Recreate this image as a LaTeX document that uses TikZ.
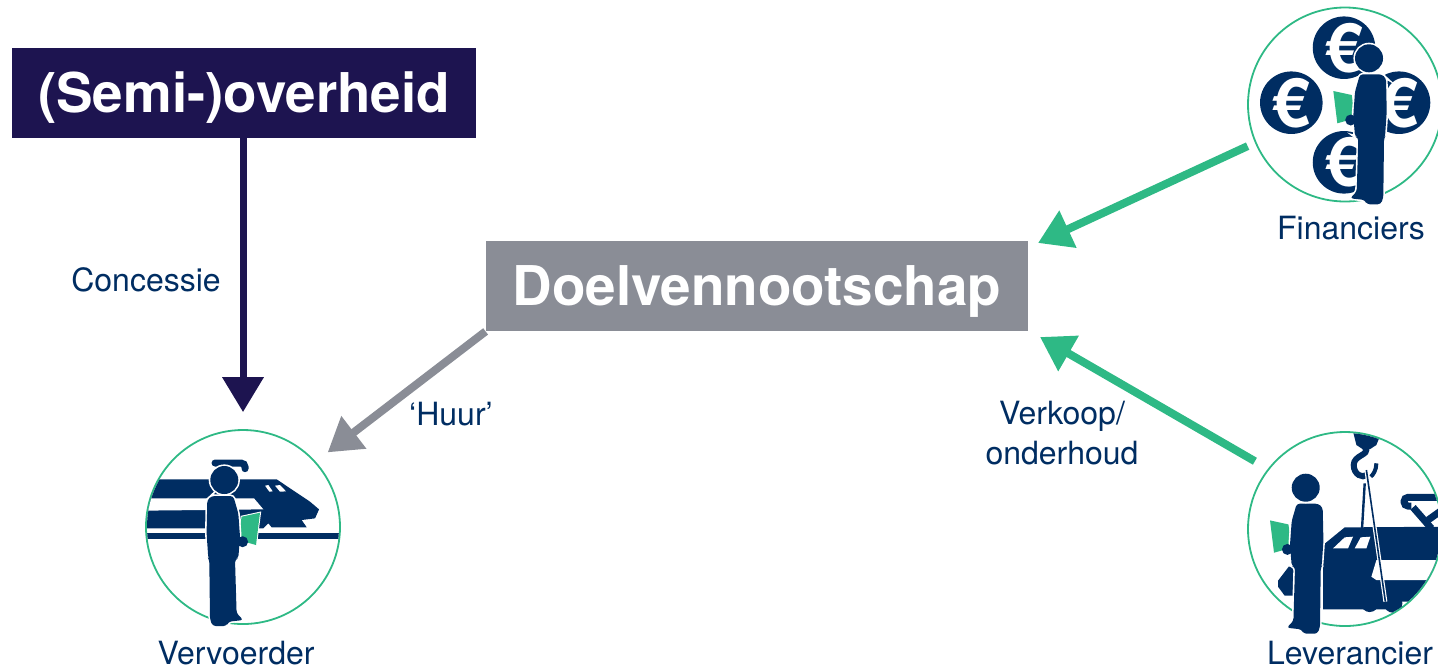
\documentclass[tikz,border=0pt]{standalone}
\usepackage{fontspec}
\setmainfont{TeX Gyre Heros}
\usetikzlibrary{positioning}
\usetikzlibrary{arrows.meta}

\definecolor{navybox}{RGB}{29,20,80}
\definecolor{navyicon}{RGB}{0,45,98}
\definecolor{greybox}{RGB}{138,141,150}
\definecolor{greenline}{RGB}{46,185,133}

\begin{document}
\begin{tikzpicture}[
x=0.5pt, y=-0.5pt,
titlenode/.style={rectangle, text=white, font=\fontsize{27.4}{27.4}\selectfont\bfseries, minimum height=45pt, text height=22pt, text depth=3pt},
labelnode/.style={text=navyicon, font=\fontsize{16}{20}\selectfont, align=center, inner sep=0pt},
circlenode/.style={circle, draw=greenline, line width=0.9pt, minimum size=97pt, inner sep=0pt},
coinnode/.style={circle, fill=navyicon, minimum size=30.5pt, inner sep=0pt, text=white, font=\fontsize{34}{34}\selectfont\bfseries},
halo/.style={fill=navyicon, preaction={draw=white, line width=1.6pt}},
navyarrow/.style={-{Triangle[length=17.5pt,width=20pt]}, line width=3.5pt, draw=navybox},
greyarrow/.style={-{Triangle[length=16.5pt,width=19.5pt]}, line width=4pt, draw=greybox},
greenarrow/.style={-{Triangle[length=16.5pt,width=19.5pt]}, line width=4pt, draw=greenline},
person/.pic={
  \fill[greenline, preaction={draw=white, line width=1pt}] (17.3,36.7) -- (35.7,32.7) -- (31.7,65) -- (14,60) -- cycle;
  \path[halo, rounded corners=1.5pt] (-12.7,16) -- (9,16) -- (14,33.3) -- (15.7,56.7) -- (14,78.3) -- (10.7,79.3) -- (12.3,133.3) -- (19,140) -- (4,141.7) -- (2.3,146) -- (-11.7,146) -- (-14.3,139.3) -- (-15,80) -- (-16,78.3) -- (-17.7,53.3) -- (-17,20) -- cycle;
  \fill[navyicon] (18.3,61.7) circle (5.5);
  \path[halo] (0,0) circle (14);
},
]
\useasboundingbox (0,0) rectangle (1438,670);

%Nodes
\node[titlenode, fill=navybox, minimum width=232pt] (overheid) at (244,93) {(Semi-)overheid};
\node[titlenode, fill=greybox, minimum width=271pt] (doel) at (757,286) {Doelvennootschap};
\node[circlenode] (vervoerder) at (243,527) {};
\node[circlenode] (financiers) at (1345,104.5) {};
\node[circlenode] (leverancier) at (1345,529) {};
\node[labelnode] (vervoerdertext) [below=8pt of vervoerder, xshift=-3.5pt] {Vervoerder};
\node[labelnode] (financierstext) [below=6.5pt of financiers, xshift=3pt] {Financiers};
\node[labelnode] (leveranciertext) [below=7pt of leverancier, xshift=2.5pt] {Leverancier};
\node[labelnode] (concessie) at (146,280) {Concessie};
\node[labelnode] (huur) at (451,414) {‘Huur’};
\node[labelnode] (verkoop) at (1062,433) {Verkoop/\\onderhoud};
\coordinate (fintip) at (1038,243);
\coordinate (levtip) at (1040,337);

%Train
\begin{scope}
\clip (243,527) circle (96);
\begin{scope}[shift={(130,420)}, x=0.1667pt, y=-0.1667pt]
\fill[navyicon] (30,178) -- (440,178) -- (540,245) -- (567,268) -- (555,295) -- (515,300) -- (530,322) -- (425,322) -- (415,310) -- (400,325) -- (30,325) -- cycle;
\fill[white] (30,235) -- (372,235) -- (400,268) -- (30,272) -- cycle;
\fill[navyicon] (30,338) rectangle (640,358);
\fill[white] (405,197) -- (415,195) -- (428,214) -- (418,215) -- cycle;
\fill[white] (435,197) -- (450,195) -- (468,214) -- (450,215) -- cycle;
\draw[navyicon, line width=3.5pt, line cap=round, rounded corners=2pt] (255,129) -- (345,129) -- (345,146);
\end{scope}
\end{scope}
\pic at (224.3,480) {person};

%Coins
\node[coinnode] (coinup) at (1344,47.7) {€};
\node[coinnode] (coinleft) at (1291.3,102.7) {€};
\node[coinnode] (coinright) at (1399,102.7) {€};
\node[coinnode] (coindown) at (1344,162.3) {€};
\pic[xscale=-1] at (1369,58.3) {person};

%Crane and train
\begin{scope}
\clip (1345,529) circle (96);
\begin{scope}[shift={(1238,420)}, x=0.1667pt, y=-0.1667pt]
\fill[navyicon] (345,35) -- (425,50) -- (415,75) -- (395,88) -- (375,88) -- (355,75) -- cycle;
\draw[navyicon, line width=3pt] (382,85) .. controls (395,105) and (347,105) .. (347,135) .. controls (347,165) and (375,175) .. (385,165);
\draw[navyicon, line width=2pt] (415,130) .. controls (415,150) and (405,165) .. (398,170);
\draw[navyicon, line width=1.2pt] (380,190) -- (372,325);
\fill[navyicon] (120,482) -- (152,440) -- (170,440) -- (170,527) -- (140,527) -- (120,500) -- cycle;
\fill[navyicon] (255,375) -- (320,322) -- (640,320) -- (640,545) -- (490,545) -- (490,568) -- (255,568) -- cycle;
\fill[white] (415,420) -- (640,420) -- (640,480) -- (415,480) -- (400,470) -- cycle;
\fill[navyicon] (395,550) circle (26);
\fill[navyicon] (465,550) circle (28);
\fill[white] (285,385) -- (320,352) -- (345,350) -- (330,385) -- cycle;
\fill[white] (350,385) -- (368,352) -- (397,350) -- (385,385) -- cycle;
\draw[white, line width=2pt] (385,150) -- (442,545);
\draw[navyicon, line width=0.8pt] (385,150) -- (442,545);
\draw[navyicon, line width=3.5pt, rounded corners=2pt] (640,232) -- (498,232) -- (498,258) -- (520,258);
\draw[navyicon, line width=3.5pt] (525,262) -- (580,325);
\draw[navyicon, line width=3.5pt] (570,300) -- (640,250);
\end{scope}
\end{scope}
\pic[xscale=-1] at (1305.7,487.7) {person};

%Lines
\draw[navyarrow] (overheid.south -| vervoerder) -- ([yshift=8.5pt]vervoerder.north);
\draw[greyarrow, shorten >=7.5pt] (doel.south west) -- (vervoerder.42);
\draw[greenarrow, shorten <=4pt] (financiers.203) -- (fintip);
\draw[greenarrow, shorten <=7.5pt] (leverancier.142) -- (levtip);
\end{tikzpicture}
\end{document}
